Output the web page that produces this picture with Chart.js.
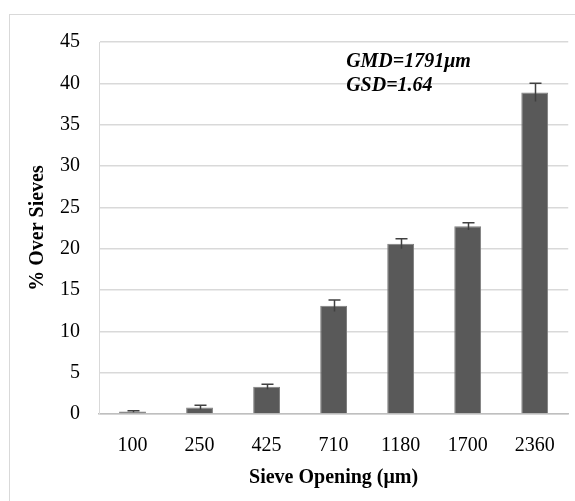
<!DOCTYPE html>
<html>
<head>
<meta charset="utf-8">
<script src="https://cdn.jsdelivr.net/npm/chart.js@4.4.1/dist/chart.umd.min.js"></script>
<style>
  html, body { margin: 0; padding: 0; background: #fff; overflow: hidden; }
  #wrap { position: relative; width: 575px; height: 501px; }
  #frame { position: absolute; left: 9px; top: 14px; width: 620px; height: 560px; border: 1px solid #d9d9d9; box-sizing: border-box; pointer-events: none; }
  canvas { position: absolute; left: 0; top: 0; }
</style>
</head>
<body>
<div id="wrap">
  <div id="frame"></div>
  <canvas id="c" width="575" height="501"></canvas>
</div>
<script>
// Sieve analysis: share of sample retained on each sieve
const sieveOpenings = ['100', '250', '425', '710', '1180', '1700', '2360'];
const percentOver = [0.3, 0.8, 3.3, 13.1, 20.6, 22.7, 38.9];
const errorSize = [0.1, 0.25, 0.3, 0.7, 0.6, 0.45, 1.1];
const yTicks = [0, 5, 10, 15, 20, 25, 30, 35, 40, 45];
const statLines = ['GMD=1791\u03bcm', 'GSD=1.64'];

const FONT = '"Liberation Serif", "Times New Roman", serif';

// Symmetric error bars drawn on top of each bar
const errorBarPlugin = {
  id: 'errorBars',
  afterDatasetsDraw(chart) {
    const ctx = chart.ctx;
    const meta = chart.getDatasetMeta(0);
    const y = chart.scales.y;
    ctx.save();
    ctx.strokeStyle = '#404040';
    ctx.lineWidth = 1.5;
    meta.data.forEach((bar, i) => {
      const v = percentOver[i], e = errorSize[i];
      const yTop = y.getPixelForValue(v + e);
      const yBot = y.getPixelForValue(v - e);
      const x = Math.round(bar.x) + 0.5;
      ctx.beginPath();
      ctx.moveTo(x, yTop);
      ctx.lineTo(x, yBot);
      ctx.moveTo(x - 6, yTop);
      ctx.lineTo(x + 6, yTop);
      ctx.stroke();
    });
    ctx.restore();
  }
};

// GMD / GSD note in the upper part of the plot
const statsPlugin = {
  id: 'stats',
  afterDraw(chart) {
    const ctx = chart.ctx;
    const x = chart.scales.x;
    const y = chart.scales.y;
    const left = (x.getPixelForValue(3) + x.getPixelForValue(4)) / 2 - 21;
    ctx.save();
    ctx.font = 'italic bold 20px ' + FONT;
    ctx.fillStyle = '#000';
    ctx.textBaseline = 'middle';
    ctx.textAlign = 'left';
    ctx.fillText(statLines[0], left, y.getPixelForValue(42.6));
    ctx.fillText(statLines[1], left, y.getPixelForValue(39.7));
    ctx.restore();
  }
};

new Chart(document.getElementById('c'), {
  type: 'bar',
  data: {
    labels: sieveOpenings,
    datasets: [{
      data: percentOver,
      backgroundColor: '#595959',
      borderColor: '#7f7f7f',
      borderWidth: 1,
      barPercentage: 0.4,
      categoryPercentage: 1.0
    }]
  },
  options: {
    responsive: false,
    animation: false,
    layout: { padding: { left: 0, right: 4, top: 42, bottom: 0 } },
    plugins: { legend: { display: false }, tooltip: { enabled: false } },
    scales: {
      x: {
        grid: { display: false, drawTicks: false },
        border: { color: '#bfbfbf', width: 1.5 },
        ticks: { color: '#000', padding: 20, font: { family: FONT, size: 20 }, maxRotation: 0 },
        title: {
          display: true,
          text: 'Sieve Opening (\u03bcm)',
          color: '#000',
          font: { family: FONT, size: 20, weight: 'bold' },
          padding: { top: 0, bottom: 11 }
        },
        afterFit(scale) { scale.height = 87; }
      },
      y: {
        min: 0,
        max: 45,
        afterBuildTicks(scale) { scale.ticks = yTicks.map(v => ({ value: v })); },
        grid: { color: '#d9d9d9', lineWidth: 1.5, drawTicks: false },
        border: { color: '#d9d9d9', width: 1 },
        ticks: { color: '#000', padding: 19, font: { family: FONT, size: 20 } },
        title: {
          display: true,
          text: '% Over Sieves',
          color: '#000',
          font: { family: FONT, size: 20, weight: 'bold' },
          padding: { top: 26, bottom: 0 }
        },
        afterFit(scale) { scale.width = 99; }
      }
    }
  },
  plugins: [errorBarPlugin, statsPlugin]
});
</script>
</body>
</html>
